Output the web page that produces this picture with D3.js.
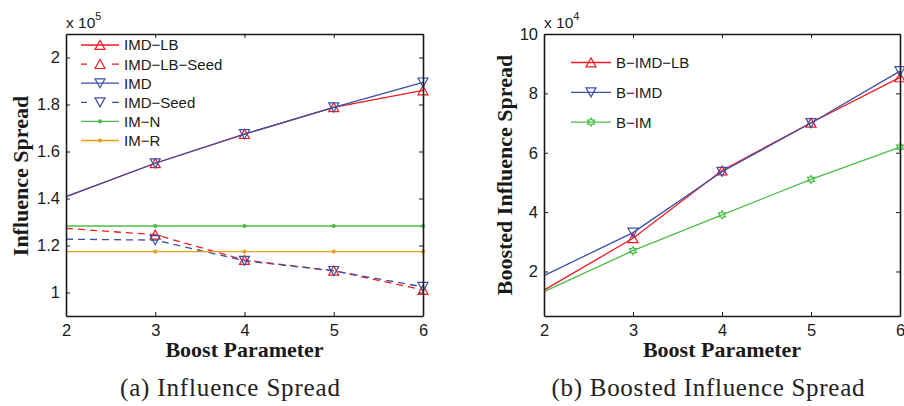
<!DOCTYPE html>
<html>
<head>
<meta charset="utf-8">
<script src="https://cdn.jsdelivr.net/npm/d3@7"></script>
<style>
  html, body { margin: 0; padding: 0; background: #fff; }
  svg { display: block; }
</style>
</head>
<body>
<svg id="chart"></svg>
<script>
// boost parameter values
const boost = [2, 3, 4, 5, 6];

// (a) influence spread, x 10^5
const imdLB     = [1.408, 1.55, 1.674, 1.788, 1.86];
const imdLBSeed = [1.273, 1.246, 1.138, 1.093, 1.011];
const imd       = [1.408, 1.55, 1.674, 1.788, 1.894];
const imdSeed   = [1.227, 1.223, 1.135, 1.092, 1.024];
const imN       = [1.283, 1.283, 1.283, 1.283, 1.283];
const imR       = [1.174, 1.174, 1.174, 1.174, 1.174];

// (b) boosted influence spread, x 10^4
const bImdLB = [1.37, 3.12, 5.4, 7.01, 8.54];
const bImd   = [1.86, 3.31, 5.36, 7.0, 8.75];
const bIm    = [1.32, 2.70, 3.91, 5.1, 6.19];

const yTicksA = [1, 1.2, 1.4, 1.6, 1.8, 2];
const yTicksB = [2, 4, 6, 8, 10];

const RED = '#f01c22', BLUE = '#3b50a6', GREEN = '#4cbc46', ORANGE = '#e5a01e';
const SANS = '"Liberation Sans", Arial, Helvetica, sans-serif';
const SERIF = '"Liberation Serif", "Times New Roman", serif';

const W = 904, H = 406;
const svg = d3.select('#chart').attr('width', W).attr('height', H);

// marker shapes
function markerPath(kind) {
  if (kind === 'up') return 'M0,-4.6L5,4.4L-5,4.4Z';
  if (kind === 'down') return 'M0,4.6L5,-4.4L-5,-4.4Z';
  if (kind === 'hex') {
    const R = 4, r = R / Math.sqrt(3);
    const pts = d3.range(12).map(i => {
      const a = -Math.PI / 2 + i * Math.PI / 6;
      const rr = i % 2 === 0 ? R : r;
      return [rr * Math.cos(a), rr * Math.sin(a)];
    });
    return 'M' + pts.map(p => p[0].toFixed(2) + ',' + p[1].toFixed(2)).join('L') + 'Z';
  }
  return null;
}

function drawMarker(g, kind, color, cx, cy) {
  if (kind === 'dot') {
    g.append('circle').attr('cx', cx).attr('cy', cy).attr('r', 2.1).attr('fill', color);
  } else {
    g.append('path').attr('d', markerPath(kind))
      .attr('transform', `translate(${cx},${cy})`)
      .attr('fill', 'none').attr('stroke', color).attr('stroke-width', 1.2);
  }
}

function panel(opt) {
  const x = d3.scaleLinear().domain([2, 6]).range([opt.left, opt.right]);
  const y = d3.scaleLinear().domain(opt.yDomain).range([316, 34]);
  const g = svg.append('g');

  // series
  const line = d3.line().x((d, i) => x(boost[i])).y(d => y(d));
  opt.series.forEach(s => {
    g.append('path').datum(s.values)
      .attr('d', line)
      .attr('fill', 'none')
      .attr('stroke', s.color)
      .attr('stroke-width', 1.3)
      .attr('stroke-dasharray', s.dash ? '7,5' : null);
    s.values.forEach((v, i) => {
      if (boost[i] > 2) drawMarker(g, s.marker, s.color, x(boost[i]), y(v));
    });
  });

  // axes (inward ticks on all four sides)
  const fmt = d3.format('~g');
  const gx = g.append('g').attr('transform', 'translate(0,316)')
    .call(d3.axisBottom(x).tickValues(boost).tickSizeInner(-4).tickSizeOuter(0).tickPadding(8).tickFormat(fmt));
  const gy = g.append('g').attr('transform', `translate(${opt.left},0)`)
    .call(d3.axisLeft(y).tickValues(opt.yTicks).tickSizeInner(-4).tickSizeOuter(0).tickPadding(6).tickFormat(fmt));
  g.append('g').attr('transform', 'translate(0,34)')
    .call(d3.axisTop(x).tickValues(boost).tickSizeInner(-4).tickSizeOuter(0).tickFormat(''));
  g.append('g').attr('transform', `translate(${opt.right},0)`)
    .call(d3.axisRight(y).tickValues(opt.yTicks).tickSizeInner(-4).tickSizeOuter(0).tickFormat(''));
  g.selectAll('.domain').attr('stroke', '#1a1a1a').attr('stroke-width', 1.6);
  g.selectAll('.tick line').attr('stroke', '#1a1a1a').attr('stroke-width', 1);
  [gx, gy].forEach(a => a.selectAll('text')
    .attr('font-family', SANS).attr('font-size', 16.5).attr('fill', '#1a1a1a'));

  // exponent
  const ex = g.append('text').attr('x', opt.left).attr('y', 28)
    .attr('font-family', SANS).attr('font-size', 15.5).attr('fill', '#1a1a1a');
  ex.append('tspan').text('x 10');
  ex.append('tspan').attr('dy', -8).attr('font-size', 11).text(opt.exp);

  // axis titles
  g.append('text').attr('x', (opt.left + opt.right) / 2).attr('y', 357)
    .attr('text-anchor', 'middle').attr('font-family', SERIF).attr('font-weight', 'bold')
    .attr('font-size', 22).attr('fill', '#1a1a1a').text('Boost Parameter');
  g.append('text').attr('transform', `translate(${opt.ylabX},${opt.ylabY}) rotate(-90)`)
    .attr('text-anchor', 'middle').attr('font-family', SERIF).attr('font-weight', 'bold')
    .attr('font-size', 22).attr('fill', '#1a1a1a').text(opt.ylabel);

  // caption
  g.append('text').attr('x', opt.capX).attr('y', 396)
    .attr('text-anchor', 'middle').attr('font-family', SERIF)
    .attr('font-size', 25).attr('fill', '#222')
    .attr('textLength', opt.capW).attr('lengthAdjust', 'spacing')
    .text(opt.caption);

  // legend
  const lg = g.append('g');
  opt.series.forEach((s, i) => {
    const ly = opt.legY + i * opt.legStep;
    lg.append('line').attr('x1', opt.legX).attr('x2', opt.legX + opt.legLen)
      .attr('y1', ly).attr('y2', ly)
      .attr('stroke', s.color).attr('stroke-width', 1.3)
      .attr('stroke-dasharray', s.dash ? `6,${opt.legLen - 13},7` : null);
    drawMarker(lg, s.marker, s.color, opt.legX + opt.legLen / 2, ly);
    lg.append('text').attr('x', opt.legX + opt.legLen + 5).attr('y', ly).attr('dy', '0.36em')
      .attr('font-family', SANS).attr('font-size', 15).attr('fill', '#1a1a1a').text(s.name);
  });
}

panel({
  left: 66, right: 423, yDomain: [0.9, 2.1], yTicks: yTicksA, exp: '5',
  ylabel: 'Influence Spread', ylabX: 28, ylabY: 176,
  caption: '(a) Influence Spread', capX: 230, capW: 220,
  legX: 81, legLen: 38, legY: 45, legStep: 19.1,
  series: [
    { name: 'IMD\u2212LB', values: imdLB, color: RED, marker: 'up' },
    { name: 'IMD\u2212LB\u2212Seed', values: imdLBSeed, color: RED, marker: 'up', dash: true },
    { name: 'IMD', values: imd, color: BLUE, marker: 'down' },
    { name: 'IMD\u2212Seed', values: imdSeed, color: BLUE, marker: 'down', dash: true },
    { name: 'IM\u2212N', values: imN, color: GREEN, marker: 'dot' },
    { name: 'IM\u2212R', values: imR, color: ORANGE, marker: 'dot' }
  ]
});

panel({
  left: 544, right: 900, yDomain: [0.5, 10], yTicks: yTicksB, exp: '4',
  ylabel: 'Boosted Influence Spread', ylabX: 512, ylabY: 175,
  caption: '(b) Boosted Influence Spread', capX: 708, capW: 313,
  legX: 571, legLen: 40, legY: 62.5, legStep: 29.8,
  series: [
    { name: 'B\u2212IMD\u2212LB', values: bImdLB, color: RED, marker: 'up' },
    { name: 'B\u2212IMD', values: bImd, color: BLUE, marker: 'down' },
    { name: 'B\u2212IM', values: bIm, color: GREEN, marker: 'hex' }
  ]
});
</script>
</body>
</html>
